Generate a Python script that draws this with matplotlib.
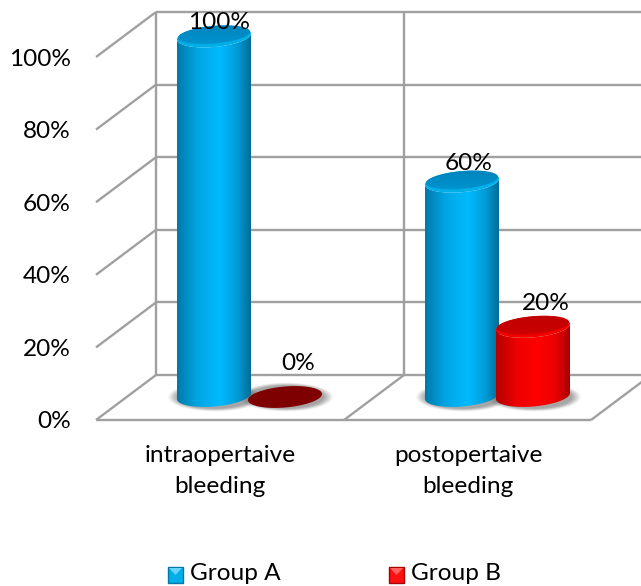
import numpy as np
import matplotlib
matplotlib.use("Agg")
import matplotlib.pyplot as plt
from matplotlib.colors import LinearSegmentedColormap, to_rgb
from matplotlib.patches import Polygon, Rectangle

categories = ["intraopertaive\nbleeding", "postopertaive\nbleeding"]
group_a = [100, 60]
group_b = [0, 20]
series_names = ["Group A", "Group B"]
tick_values = [0, 20, 40, 60, 80, 100]

plt.rcParams["font.family"] = ["Lato", "DejaVu Sans"]

# Layout of the pseudo-3D box, in pixels
FLOOR_FRONT, FLOOR_BACK = 420, 375
WALL_LEFT, FRONT_LEFT = 156, 96
PX_PER_PCT = 3.63
BAR_BASE = 396
BAR_ZERO = 399.5
FIRST_BAR, CAT_STEP, SERIES_STEP = 214, 248, 71
RX, RY, TILT = 37, 10.5, 3.0
GRID = "#a0a0a0"
FS = 17.6

fig = plt.figure(figsize=(6.41, 5.86), dpi=100)
ax = fig.add_axes([0, 0, 1, 1])
ax.set_xlim(0, 641)
ax.set_ylim(586, 0)
ax.axis("off")


def line(xs, ys):
    ax.plot(xs, ys, color=GRID, lw=1.7, solid_capstyle="butt", zorder=1)


def bar_top(value):
    """Pixel height of a bar's top face; an empty bar lies flat on its base."""
    return BAR_BASE + 1 if value == 0 else BAR_ZERO - value * PX_PER_PCT


# Back wall, side wall and floor
for v in tick_values:
    y_back = FLOOR_BACK - v * PX_PER_PCT
    y_front = FLOOR_FRONT - v * PX_PER_PCT
    line([WALL_LEFT, 641], [y_back, y_back])
    line([FRONT_LEFT, WALL_LEFT], [y_front, y_back])
line([WALL_LEFT, WALL_LEFT], [FLOOR_BACK, FLOOR_BACK - 100 * PX_PER_PCT])
line([404, 404], [FLOOR_BACK, FLOOR_BACK - 100 * PX_PER_PCT])
line([FRONT_LEFT, 591], [FLOOR_FRONT, FLOOR_FRONT])
line([344, 404], [FLOOR_FRONT, FLOOR_BACK])
line([591, 651], [FLOOR_FRONT, FLOOR_BACK])


def ellipse_pts(cx, cy, t, rx=RX, ry=RY):
    """Points on a bar's slightly tilted elliptical rim."""
    return (cx + rx * np.cos(t),
            cy + ry * np.sin(t) - TILT * np.cos(t))


def gradient_fill(stops, poly, extent, vertical=False, zorder=3):
    pos = [s[0] for s in stops]
    cols = [to_rgb(s[1]) for s in stops]
    cmap = LinearSegmentedColormap.from_list("g", list(zip(pos, cols)))
    ramp = np.linspace(0, 1, 256)
    arr = ramp[:, None] if vertical else ramp[None, :]
    im = ax.imshow(arr, cmap=cmap, vmin=0, vmax=1, extent=extent, aspect="auto",
                   origin="upper", interpolation="bilinear", zorder=zorder)
    patch = Polygon(poly, closed=True, transform=ax.transData, fc="none", ec="none")
    ax.add_patch(patch)
    im.set_clip_path(patch)


def soft_shadow(cx, cy, zorder=2):
    xs = np.linspace(cx - 60, cx + 60, 241)
    ys = np.linspace(cy - 24, cy + 24, 97)
    X, Y = np.meshgrid(xs, ys)
    d = np.sqrt(((X - cx) / (RX + 7)) ** 2 + ((Y - cy) / (RY + 3)) ** 2)
    alpha = np.clip((1.08 - d) / 0.22, 0, 1) * 0.6
    rgba = np.zeros(X.shape + (4,))
    rgba[..., :3] = 0.42
    rgba[..., 3] = alpha
    ax.imshow(rgba, extent=[xs[0], xs[-1], ys[-1], ys[0]], aspect="auto",
              origin="upper", interpolation="bilinear", zorder=zorder)


BLUE_BODY = [(0, "#0079aa"), (0.28, "#00a6e4"), (0.58, "#00bbff"),
             (0.82, "#009bd6"), (1, "#006c98")]
BLUE_CAP = [(0, "#0083bb"), (0.7, "#008fca"), (1, "#009ad6")]
BLUE_RIM = "#00aee8"
RED_BODY = [(0, "#b40000"), (0.28, "#ee0000"), (0.58, "#ff0000"),
            (0.82, "#e80000"), (1, "#a80000")]
RED_CAP = [(0, "#c00000"), (0.7, "#c80000"), (1, "#d80000")]
RED_RIM = "#f00000"
ZERO_CAP = "#7f0000"


def cylinder(cx, value, body, cap, rim, z):
    top = bar_top(value)
    full = np.linspace(0, 2 * np.pi, 121)
    cap_pts = np.column_stack(ellipse_pts(cx, top, full))
    if value == 0:
        ax.add_patch(Polygon(cap_pts, closed=True, fc=ZERO_CAP, ec="none", zorder=z))
        return
    lower = np.linspace(0, np.pi, 61)
    bx, by = ellipse_pts(cx, BAR_BASE, lower)
    tx, ty = ellipse_pts(cx, top, lower[::-1])
    outline = np.column_stack([np.r_[bx, tx], np.r_[by, ty]])
    gradient_fill(body, outline,
                  [cx - RX, cx + RX, BAR_BASE + RY + TILT, top - RY - TILT], zorder=z)
    ax.add_patch(Polygon(cap_pts, closed=True, fc=rim, ec="none", zorder=z + 0.05))
    # Darker inner face, nudged up so a lighter bevel shows along the front edge
    inner = np.column_stack(ellipse_pts(cx, top - 1.8, full, rx=RX - 1, ry=RY - 1.6))
    gradient_fill(cap, inner,
                  [cx - RX, cx + RX, top + RY, top - RY - TILT],
                  vertical=True, zorder=z + 0.1)


x_a = [FIRST_BAR + i * CAT_STEP for i in range(len(categories))]
x_b = [x + SERIES_STEP for x in x_a]

for x in x_a + x_b:
    soft_shadow(x + 1, BAR_BASE + 1)
for x, v in zip(x_a, group_a):
    cylinder(x, v, BLUE_BODY, BLUE_CAP, BLUE_RIM, 3)
for x, v in zip(x_b, group_b):
    cylinder(x, v, RED_BODY, RED_CAP, RED_RIM, 4)

# Percentage labels sit just above each bar top
for x, v in zip(x_a + x_b, group_a + group_b):
    dx = 5 if v == 100 else (7 if v == 60 else 13)
    dy = 14 if v == 100 else (18 if v == 60 else (23 if v == 20 else 34))
    ax.text(x + dx, bar_top(v) - dy, f"{v}%", ha="center", va="center",
            fontsize=FS, color="black", zorder=6)

# Value axis labels
for v in tick_values:
    ax.text(71, FLOOR_FRONT - v * PX_PER_PCT + 2, f"{v}%", ha="right", va="center",
            fontsize=FS, color="black")

# Category labels
for i, c in enumerate(categories):
    ax.text(220 + i * CAT_STEP, 471, c, ha="center", va="center", fontsize=FS,
            linespacing=1.55, color="black")

# Legend
for x0, name, body, cap in [(168, series_names[0], "#00aeea", "#0079aa"),
                            (389, series_names[1], "#ff1010", "#a80000")]:
    ax.add_patch(Rectangle((x0, 567), 15, 16, fc=body, ec=cap, lw=1.0, zorder=3))
    ax.add_patch(Polygon([(x0 + 1, 568), (x0 + 14, 568), (x0 + 7.5, 575)], closed=True,
                         fc="#66d4ff" if cap == "#0079aa" else "#ff6060",
                         ec="none", zorder=4))
    ax.text(x0 + 22, 574, name, ha="left", va="center", fontsize=FS, color="black")

ax.set_xlim(0, 641)
ax.set_ylim(586, 0)
fig.savefig("out.png", dpi=100, facecolor="white")
